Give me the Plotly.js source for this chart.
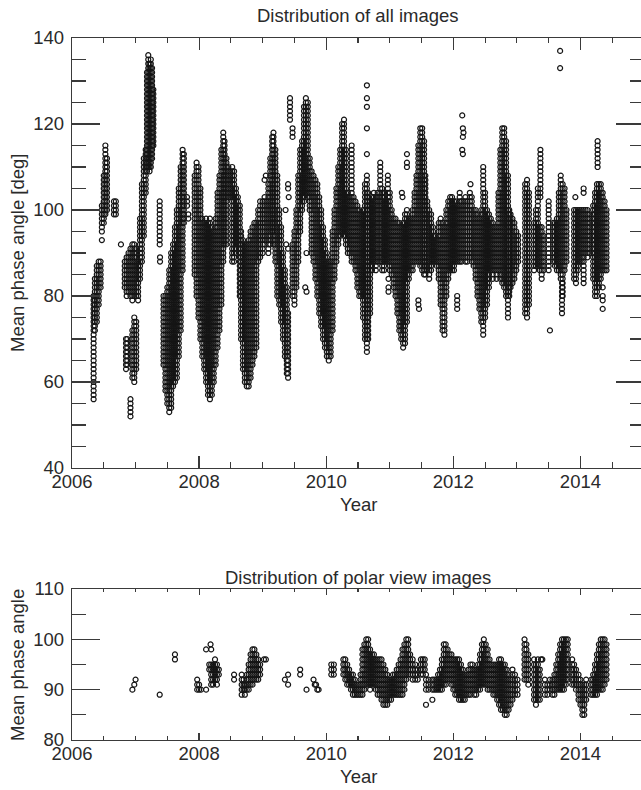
<!DOCTYPE html>
<html>
<head>
<meta charset="utf-8">
<script src="https://cdn.plot.ly/plotly-3.0.1.min.js"></script>
<style>
html,body{margin:0;padding:0;background:#fff;overflow:hidden;}
#chart{width:645px;height:790px;}
</style>
</head>
<body>
<div id="chart"></div>
<script>
// ---- Panel 1: Distribution of all images ----
// Stacks of circles at whole degrees: for each date column, the lowest and highest stacked value.
const allYear = [
2006.34,2006.36,2006.39,2006.42,2006.45,2006.47,2006.50,2006.525,2006.55,2006.66,2006.69,
2006.83,2006.86,2006.89,2006.92,2006.95,2006.98,2007.01,2007.04,
2006.85,2006.87,2006.92,2006.95,2006.98,2007.01,
2007.07,2007.10,2007.13,2007.16,2007.18,2007.20,2007.22,2007.24,2007.26,2007.28,
2007.38,2007.385,
2007.44,2007.47,2007.50,2007.53,2007.56,2007.59,2007.62,2007.65,2007.68,2007.71,2007.74,2007.76,
2007.81,2007.83,
2007.93,2007.96,2007.99,2008.02,2008.05,2008.08,2008.11,2008.14,2008.17,2008.20,2008.23,2008.26,2008.29,2008.32,2008.35,2008.38,2008.40,
2008.43,2008.46,2008.49,2008.52,2008.55,2008.58,2008.61,
2008.64,2008.66,2008.69,2008.72,2008.75,2008.78,2008.81,2008.84,2008.87,2008.90,
2008.93,2008.96,2009.00,2009.03,2009.06,
2009.09,2009.12,2009.15,2009.17,2009.20,2009.23,2009.26,2009.29,2009.32,2009.35,2009.38,2009.40,
2009.43,2009.47,
2009.47,2009.50,2009.53,2009.56,2009.59,2009.62,2009.65,2009.68,2009.71,2009.74,
2009.77,2009.80,2009.83,2009.86,2009.89,2009.92,2009.95,2009.98,2010.01,2010.04,
2010.07,2010.10,2010.13,2010.16,2010.19,2010.22,2010.25,2010.28,2010.31,
2010.34,2010.37,2010.40,2010.43,2010.46,2010.49,2010.52,2010.55,
2010.58,2010.61,2010.64,2010.66,2010.69,
2010.72,2010.75,2010.78,2010.81,2010.85,
2010.88,2010.91,2010.94,2010.97,2011.00,
2011.03,2011.06,2011.09,2011.12,2011.15,2011.18,2011.21,2011.24,2011.27,
2011.30,2011.33,2011.36,2011.39,
2011.42,2011.45,2011.48,2011.51,2011.54,2011.56,
2011.59,2011.62,2011.65,2011.68,2011.71,2011.74,
2011.77,2011.80,2011.83,2011.86,
2011.89,2011.92,2011.95,2011.98,2012.01,
2012.04,2012.07,2012.06,2012.10,2012.13,2012.16,2012.19,2012.22,
2012.26,2012.29,2012.32,
2012.35,2012.38,2012.41,2012.44,2012.47,2012.50,2012.53,2012.56,2012.59,
2012.62,2012.65,2012.68,
2012.71,2012.74,2012.77,2012.80,2012.83,2012.86,2012.88,
2012.90,2012.93,2012.96,2012.99,2013.02,
2013.13,2013.16,2013.19,
2013.27,2013.30,2013.33,2013.36,2013.37,2013.39,2013.42,
2013.50,
2013.57,2013.60,2013.63,2013.66,2013.69,2013.72,2013.71,2013.75,2013.78,
2013.90,2013.93,2013.96,2013.99,2014.02,2014.05,2014.08,2014.11,2014.14,
2014.20,2014.23,2014.26,2014.27,2014.29,2014.32,2014.35,2014.38,2014.41
];
const allLo = [
56,72,74,78,82,95,97,99,100,99,99,
82,80,81,80,79,80,80,79,
63,64,52,61,60,63,
84,88,94,104,109,110,109,110,112,115,
92,88,
64,58,55,53,54,59,60,61,66,72,86,97,
101,98,
85,80,75,70,66,63,60,57,56,57,60,64,68,72,78,88,92,
92,103,103,88,88,90,92,
80,70,63,60,59,59,61,64,66,68,
88,89,90,92,93,
90,92,95,92,88,80,78,74,70,66,62,61,
121,117,
80,78,82,88,95,100,102,104,103,100,
90,88,84,80,76,73,70,68,66,65,
66,72,84,88,92,94,95,94,92,
90,90,88,88,86,82,80,80,
75,70,67,70,76,
86,88,86,88,88,
86,86,88,88,86,
85,82,80,76,72,70,68,69,74,
84,86,86,88,
88,88,87,86,85,85,
86,84,86,88,88,87,
84,78,72,71,
80,84,86,86,86,
88,88,77,88,88,89,88,88,
89,88,87,
84,80,77,74,72,75,78,82,86,
84,86,84,
86,84,83,82,80,75,80,
82,83,84,86,88,
76,75,78,
86,87,87,86,103,84,86,
86,
88,87,86,86,84,80,76,86,88,
84,83,86,88,88,83,90,89,90,
84,80,80,110,82,84,86,86,86
];
const allHi = [
80,84,87,88,88,101,108,115,112,102,102,
88,89,90,91,92,92,91,88,
70,70,56,72,75,74,
98,106,112,114,132,136,134,135,133,128,
102,89,
80,80,82,86,90,92,96,100,105,110,114,113,
103,99,
108,111,110,105,98,97,98,97,98,96,95,98,104,108,114,118,116,
112,110,109,110,109,105,103,
101,95,93,92,92,93,95,96,97,97,
100,102,102,103,102,
106,112,117,118,114,108,100,96,90,86,82,76,
126,119,
92,95,100,108,114,116,124,126,125,112,
109,108,107,106,103,100,96,93,90,88,
88,95,100,105,110,114,120,121,114,
104,103,115,103,102,101,100,99,
100,106,108,104,102,
103,104,103,104,111,
105,104,102,108,104,
100,98,98,97,97,96,97,99,100,
98,98,100,104,
108,115,119,119,116,108,
102,100,99,96,94,93,
97,98,97,96,
100,102,103,103,102,
102,101,80,104,102,102,103,102,
104,103,100,
100,99,98,100,110,104,100,99,98,
97,96,96,
104,114,119,119,116,108,100,
99,98,97,95,94,
106,107,104,
97,100,105,96,114,96,94,
102,
97,97,98,104,108,106,83,105,100,
100,100,100,100,100,100,100,100,99,
101,104,106,116,106,106,104,102,100
];
// Single circles standing apart from the stacks
const allIsoYear = [2006.47,2006.77,2009.03,2009.05,2009.40,2009.40,2009.41,2009.36,2009.37,2009.40,
2009.69,2009.67,2009.69,2010.64,2010.64,2010.64,2010.64,2010.64,2010.98,2010.98,2010.98,
2011.27,2011.27,2011.27,2011.19,2011.20,2011.45,2011.45,2011.46,
2012.14,2012.15,2012.16,2012.15,2012.14,2012.15,2012.27,2012.47,
2013.52,2013.68,2013.68,2013.92,2014.05,2014.05,2014.35,2014.35,2014.35,2014.35];
const allIsoDeg = [93,92,107,108,106,105,103,100,92,91,
90,82,81,129,126,124,119,113,84,82,81,
113,111,110,104,103,79,78,77,
122,119,118,117,114,113,106,71,
72,137,133,103,104,105,82,80,79,77];

// ---- Panel 2: Distribution of polar view images ----
const polYear = [
2007.62,2007.97,2008.00,2008.03,
2008.16,2008.19,2008.22,2008.25,2008.28,2008.31,
2008.55,2008.67,2008.70,
2008.72,2008.75,2008.78,2008.81,2008.84,2008.87,2008.90,2008.93,2008.96,
2010.08,2010.12,
2010.27,2010.30,2010.33,2010.36,2010.39,2010.42,2010.45,2010.48,2010.51,2010.54,
2010.57,2010.60,2010.63,2010.66,2010.69,
2010.72,2010.75,2010.78,2010.81,
2010.84,2010.87,2010.90,2010.93,2010.96,2010.99,2011.02,
2011.05,2011.08,2011.11,2011.14,
2011.17,2011.20,2011.23,2011.26,2011.29,
2011.32,2011.36,2011.40,2011.44,
2011.49,2011.52,2011.55,
2011.57,2011.61,
2011.67,2011.70,2011.73,2011.76,2011.79,
2011.82,2011.85,2011.88,2011.91,2011.94,2011.97,
2012.00,2012.03,2012.06,2012.09,2012.12,2012.15,2012.18,
2012.21,2012.24,2012.27,2012.30,2012.33,2012.36,2012.39,
2012.42,2012.45,2012.48,2012.51,2012.54,
2012.57,2012.60,2012.63,
2012.66,2012.69,2012.72,2012.75,2012.78,2012.81,2012.84,2012.87,2012.90,
2012.93,2012.97,2013.01,
2013.12,2013.15,2013.18,
2013.27,2013.30,2013.33,2013.36,
2013.44,2013.48,2013.52,
2013.56,2013.59,2013.62,2013.65,2013.68,2013.71,2013.74,2013.77,2013.80,
2013.87,2013.90,2013.93,
2013.97,2014.00,2014.03,2014.06,2014.09,
2014.17,2014.20,2014.23,2014.26,2014.29,2014.32,2014.35,2014.38,2014.41
];
const polLo = [
96,90,90,90,
94,91,91,92,91,93,
92,89,90,
89,90,90,91,91,92,92,92,93,
93,93,
93,92,91,91,90,89,89,89,89,89,
89,90,91,91,90,
91,91,90,89,
89,88,87,87,87,88,88,
89,89,89,89,
89,89,90,92,93,
93,92,92,92,
93,93,94,
90,90,
90,90,90,90,90,
90,91,91,92,92,91,
90,89,89,88,88,88,88,
89,89,89,90,89,89,90,
90,91,91,91,90,
90,90,89,
89,88,87,86,86,85,85,86,87,
88,89,89,
92,92,91,
88,87,88,88,
89,89,90,
89,89,90,90,90,90,90,91,92,
91,91,90,
88,87,85,85,88,
89,89,89,89,90,90,90,91,92
];
const polHi = [
97,92,91,90,
95,95,95,96,95,94,
93,93,92,
91,93,95,97,98,98,97,96,95,
95,95,
96,96,95,94,93,93,92,91,91,93,
98,99,100,100,98,
97,97,96,96,
96,96,95,94,93,92,92,
93,93,94,95,
96,98,99,100,100,
97,96,95,94,
96,96,96,
93,92,
92,92,92,93,94,
96,99,99,98,97,97,
96,96,96,96,95,94,93,
93,94,95,95,94,94,95,
97,99,100,99,98,
96,95,95,
95,95,96,96,95,95,94,93,92,
94,93,92,
100,99,97,
96,95,96,94,
92,91,92,
92,93,95,97,99,100,100,100,100,
96,95,94,
93,92,91,91,92,
92,93,95,97,99,100,100,100,99
];
const polIsoYear = [2006.95,2006.98,2007.00,2007.38,2008.11,2008.11,2008.18,2008.19,
2009.02,2009.05,2009.35,2009.40,2009.40,2009.59,2009.59,2009.69,2009.80,2009.82,2009.84,2009.86,2009.88,
2011.57,2011.67,2013.38,2013.40];
const polIsoDeg = [90,91,92,89,90,98,99,98,
96,96,92,93,91,94,93,90,92,91,91,90,90,
87,88,96,96];

const xTickVals = [2006,2008,2010,2012,2014];
const xRange = [2006, 2015];
const yRangeAll = [40, 140];
const yRangePolar = [80, 110];

function stacks(years, lo, hi, isoY, isoD){
  const x = [], y = [];
  for (let i = 0; i < years.length; i++) {
    for (let d = lo[i]; d <= hi[i]; d++) { x.push(years[i]); y.push(d); }
  }
  for (let j = 0; j < isoY.length; j++) { x.push(isoY[j]); y.push(isoD[j]); }
  return {x, y};
}

const p1 = stacks(allYear, allLo, allHi, allIsoYear, allIsoDeg);
const p2 = stacks(polYear, polLo, polHi, polIsoYear, polIsoDeg);

const ink = '#151515';
const mk = {symbol:'circle-open', size:5, color:ink, line:{width:1.2, color:ink}};

const traces = [
  {type:'scatter', mode:'markers', x:p1.x, y:p1.y, xaxis:'x', yaxis:'y', marker:mk, hoverinfo:'skip'},
  {type:'scatter', mode:'markers', x:p2.x, y:p2.y, xaxis:'x2', yaxis:'y2', marker:mk, hoverinfo:'skip'}
];
// empty traces that only attach the tick-only overlay axes (minor ticks, top and right ticks)
[['x3','y'],['x4','y'],['x5','y'],['x','y3'],['x','y4'],['x','y5'],
 ['x6','y2'],['x7','y2'],['x8','y2'],['x2','y6'],['x2','y7'],['x2','y8']].forEach(function(p){
  traces.push({type:'scatter', mode:'markers', x:[], y:[], xaxis:p[0], yaxis:p[1], hoverinfo:'skip', showlegend:false});
});

const fnt = {family:'"Liberation Sans", Arial, Helvetica, sans-serif', size:18.5, color:'#2a2a2a'};
const axisCol = '#3a3a3a';

const W = 645, H = 790, mL = 72, mR = 1, mT = 38, mB = 50;
const pw = W - mL - mR, ph = H - mT - mB;
const px = v => (v - mL) / pw;
const py = v => (H - mB - v) / ph;

const dom1 = [py(468), 1], dom2 = [0, py(589)];

// base axes (labels + frame)
function xBase(anchor, tl){
  return {anchor:anchor, domain:[0,1], range:xRange, tickmode:'array', tickvals:xTickVals, ticktext:xTickVals.map(String),
    ticks:'inside', ticklen:tl, tickwidth:1.3, tickcolor:axisCol,
    showline:true, linecolor:axisCol, linewidth:1.3, mirror:true, showgrid:false, zeroline:false,
    tickfont:fnt, ticklabelstandoff:-4, fixedrange:true};
}
function yBase(anchor, dom, rng, dt){
  return {anchor:anchor, domain:dom, range:rng, tickmode:'linear', tick0:rng[0], dtick:dt,
    ticks:'inside', ticklen:28, tickwidth:1.3, tickcolor:axisCol,
    showline:true, linecolor:axisCol, linewidth:1.3, mirror:true, showgrid:false, zeroline:false,
    tickfont:fnt, ticklabelstandoff:3, fixedrange:true};
}
// tick-only overlay axes (minor ticks and the opposite-side ticks)
function xTicks(over, anchor, side, dt, tl){
  return {overlaying:over, anchor:anchor, side:side, range:xRange, tickmode:'linear', tick0:2006, dtick:dt,
    ticks:'inside', ticklen:tl, tickwidth:1.2, tickcolor:axisCol, showticklabels:false,
    showline:false, showgrid:false, zeroline:false, fixedrange:true};
}
function yTicks(over, anchor, side, rng, dt, tl){
  return {overlaying:over, anchor:anchor, side:side, range:rng, tickmode:'linear', tick0:rng[0], dtick:dt,
    ticks:'inside', ticklen:tl, tickwidth:1.2, tickcolor:axisCol, showticklabels:false,
    showline:false, showgrid:false, zeroline:false, fixedrange:true};
}

const layout = {
  width:W, height:H, margin:{l:mL, r:mR, t:mT, b:mB},
  paper_bgcolor:'#fff', plot_bgcolor:'rgba(0,0,0,0)', showlegend:false,
  // top panel
  xaxis: xBase('y', 12),
  yaxis: yBase('x', dom1, yRangeAll, 20),
  xaxis3: xTicks('x', 'y', 'bottom', 0.5, 6),
  xaxis4: xTicks('x', 'y', 'top', 2, 12),
  xaxis5: xTicks('x', 'y', 'top', 0.5, 5),
  yaxis3: yTicks('y', 'x', 'left', yRangeAll, 5, 14),
  yaxis4: yTicks('y', 'x', 'right', yRangeAll, 20, 28),
  yaxis5: yTicks('y', 'x', 'right', yRangeAll, 5, 14),
  // bottom panel
  xaxis2: xBase('y2', 7),
  yaxis2: yBase('x2', dom2, yRangePolar, 10),
  xaxis6: xTicks('x2', 'y2', 'bottom', 0.5, 4),
  xaxis7: xTicks('x2', 'y2', 'top', 2, 6),
  xaxis8: xTicks('x2', 'y2', 'top', 0.5, 3),
  yaxis6: yTicks('y2', 'x2', 'left', yRangePolar, 5, 14),
  yaxis7: yTicks('y2', 'x2', 'right', yRangePolar, 10, 28),
  yaxis8: yTicks('y2', 'x2', 'right', yRangePolar, 5, 14),
  annotations:[
    {text:'Distribution of all images', xref:'paper', yref:'paper', x:px(358), y:py(15), xanchor:'center', yanchor:'middle', showarrow:false, font:fnt},
    {text:'Year', xref:'paper', yref:'paper', x:px(358), y:py(505), xanchor:'center', yanchor:'middle', showarrow:false, font:fnt},
    {text:'Mean phase angle [deg]', xref:'paper', yref:'paper', x:px(17), y:py(253), xanchor:'center', yanchor:'middle', textangle:-90, showarrow:false, font:fnt},
    {text:'Distribution of polar view images', xref:'paper', yref:'paper', x:px(358), y:py(577), xanchor:'center', yanchor:'middle', showarrow:false, font:fnt},
    {text:'Year', xref:'paper', yref:'paper', x:px(358), y:py(776), xanchor:'center', yanchor:'middle', showarrow:false, font:fnt},
    {text:'Mean phase angle', xref:'paper', yref:'paper', x:px(17), y:py(665), xanchor:'center', yanchor:'middle', textangle:-90, showarrow:false, font:fnt}
  ]
};

Plotly.newPlot('chart', traces, layout, {displayModeBar:false, staticPlot:true});
</script>
</body>
</html>
